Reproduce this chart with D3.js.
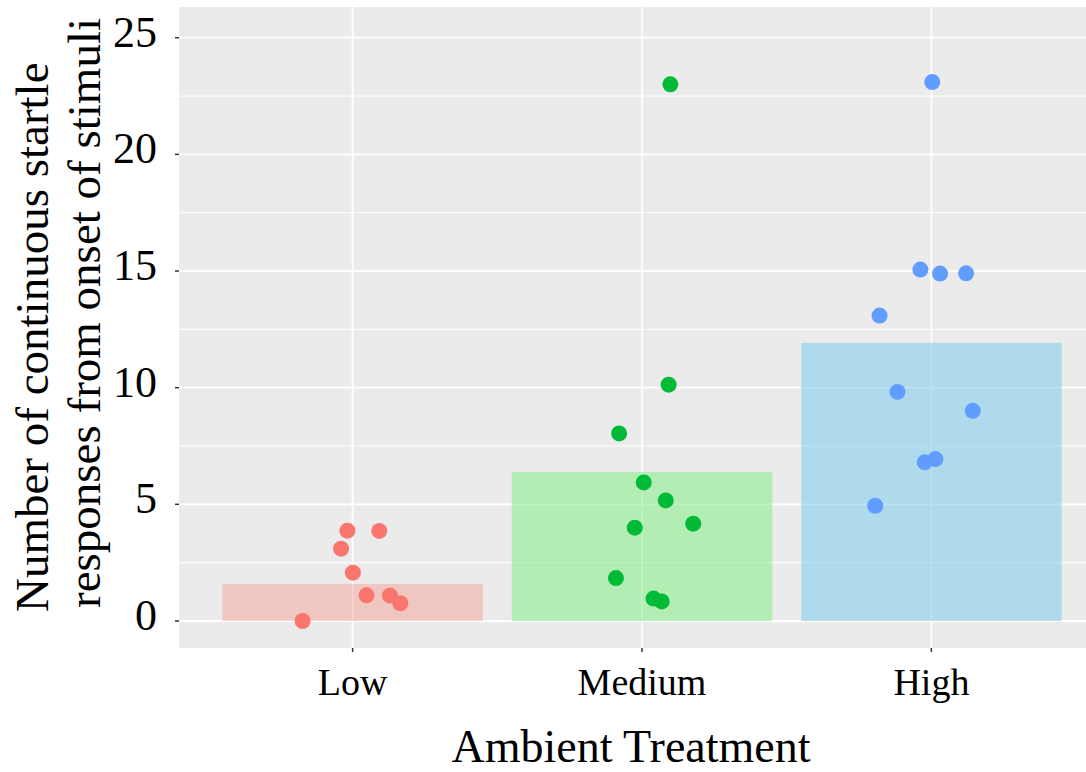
<!DOCTYPE html>
<html>
<head>
<meta charset="utf-8">
<script src="https://cdn.jsdelivr.net/npm/d3@7"></script>
<style>
  html, body { margin: 0; padding: 0; background: #fff; }
  svg { display: block; font-family: "Liberation Serif", "Times New Roman", serif; }
</style>
</head>
<body>
<div id="graphic"></div>
<script>
var categories = ["Low", "Medium", "High"];
var barMeans = [1.59, 6.39, 11.92];
var barFills = ["#FA8072", "#90EE90", "#87CEEB"];
var barOpacity = [0.35, 0.6, 0.6];
var pointColors = ["#F8766D", "#00BA38", "#619CFF"];
var yTicks = [0, 5, 10, 15, 20, 25];
var yMinor = [2.5, 7.5, 12.5, 17.5, 22.5];

var lowValues = [3.87, 3.86, 3.10, 2.07, 1.10, 1.09, 0.76, 0.00];
var lowJitter = [-0.018, 0.092, -0.040, 0.001, 0.048, 0.129, 0.165, -0.173];
var mediumValues = [23.0, 10.13, 8.04, 5.94, 5.17, 4.17, 4.00, 1.84, 0.96, 0.84];
var mediumJitter = [0.098, 0.092, -0.079, 0.006, 0.082, 0.177, -0.025, -0.090, 0.040, 0.068];
var highValues = [23.1, 15.06, 14.89, 14.90, 13.09, 9.82, 9.01, 6.80, 6.94, 4.94];
var highJitter = [0.003, -0.038, 0.030, 0.120, -0.179, -0.117, 0.143, -0.023, 0.014, -0.194];

var graphic = new Object;

graphic.create = function() {
  var width = 1086, height = 772;
  var panel = { left: 179, right: 1105, top: 7, bottom: 648 };
  var svg, g, x, y, points, groups;

  svg = d3.select("#graphic").append("svg").attr("width", width).attr("height", height);

  x = d3.scaleLinear().domain([0.4, 3.6]).range([panel.left, panel.right]);
  y = d3.scaleLinear().domain([-1.157, 26.316]).range([panel.bottom, panel.top]);

  svg.append("rect")
    .attr("x", panel.left).attr("y", panel.top)
    .attr("width", panel.right - panel.left).attr("height", panel.bottom - panel.top)
    .attr("fill", "#EBEBEB");

  g = svg.append("g");

  g.selectAll("line.minor").data(yMinor).enter().append("line")
    .attr("class", "minor")
    .attr("x1", panel.left).attr("x2", panel.right)
    .attr("y1", function(d) { return y(d); }).attr("y2", function(d) { return y(d); })
    .attr("stroke", "#fff").attr("stroke-width", 1);

  g.selectAll("line.major").data(yTicks).enter().append("line")
    .attr("class", "major")
    .attr("x1", panel.left).attr("x2", panel.right)
    .attr("y1", function(d) { return y(d); }).attr("y2", function(d) { return y(d); })
    .attr("stroke", "#fff").attr("stroke-width", 1.8);

  g.selectAll("line.vmajor").data(categories).enter().append("line")
    .attr("class", "vmajor")
    .attr("x1", function(d, i) { return x(i + 1); }).attr("x2", function(d, i) { return x(i + 1); })
    .attr("y1", panel.top).attr("y2", panel.bottom)
    .attr("stroke", "#fff").attr("stroke-width", 1.8);

  // bars of the group means
  g.selectAll("rect.bar").data(barMeans).enter().append("rect")
    .attr("class", "bar")
    .attr("x", function(d, i) { return x(i + 1 - 0.45); })
    .attr("width", function(d, i) { return x(i + 1 + 0.45) - x(i + 1 - 0.45); })
    .attr("y", function(d) { return y(d); })
    .attr("height", function(d) { return y(0) - y(d); })
    .attr("fill", function(d, i) { return barFills[i]; })
    .attr("fill-opacity", function(d, i) { return barOpacity[i]; });

  groups = [[lowValues, lowJitter], [mediumValues, mediumJitter], [highValues, highJitter]];
  points = [];
  groups.forEach(function(grp, i) {
    grp[0].forEach(function(v, j) {
      points.push({ cat: i, value: v, jitter: grp[1][j] });
    });
  });

  g.selectAll("circle").data(points).enter().append("circle")
    .attr("cx", function(d) { return x(d.cat + 1 + d.jitter); })
    .attr("cy", function(d) { return y(d.value); })
    .attr("r", 8)
    .attr("fill", function(d) { return pointColors[d.cat]; });

  // y axis
  g.selectAll("line.ytick").data(yTicks).enter().append("line")
    .attr("class", "ytick")
    .attr("x1", panel.left - 4).attr("x2", panel.left)
    .attr("y1", function(d) { return y(d); }).attr("y2", function(d) { return y(d); })
    .attr("stroke", "#333").attr("stroke-width", 1.5);

  g.selectAll("text.ylab").data(yTicks).enter().append("text")
    .attr("class", "ylab")
    .attr("x", 157).attr("y", function(d) { return y(d) + 9; })
    .attr("text-anchor", "end")
    .attr("font-size", 44)
    .attr("fill", "#000")
    .text(function(d) { return d; });

  // x axis
  g.selectAll("line.xtick").data(categories).enter().append("line")
    .attr("class", "xtick")
    .attr("x1", function(d, i) { return x(i + 1); }).attr("x2", function(d, i) { return x(i + 1); })
    .attr("y1", panel.bottom).attr("y2", panel.bottom + 4)
    .attr("stroke", "#333").attr("stroke-width", 1.5);

  g.selectAll("text.xlab").data(categories).enter().append("text")
    .attr("class", "xlab")
    .attr("x", function(d, i) { return x(i + 1); }).attr("y", 695)
    .attr("text-anchor", "middle")
    .attr("font-size", 38)
    .attr("fill", "#000")
    .text(function(d) { return d; });

  svg.append("text")
    .attr("x", 631).attr("y", 762)
    .attr("text-anchor", "middle")
    .attr("font-size", 46)
    .text("Ambient Treatment");

  svg.append("text")
    .attr("transform", "translate(48,612) rotate(-90)")
    .attr("text-anchor", "start")
    .attr("font-size", 47)
    .text("Number of continuous startle");

  svg.append("text")
    .attr("transform", "translate(100,608) rotate(-90)")
    .attr("text-anchor", "start")
    .attr("font-size", 47)
    .text("responses from onset of stimuli");
};

graphic.create();
</script>
</body>
</html>
